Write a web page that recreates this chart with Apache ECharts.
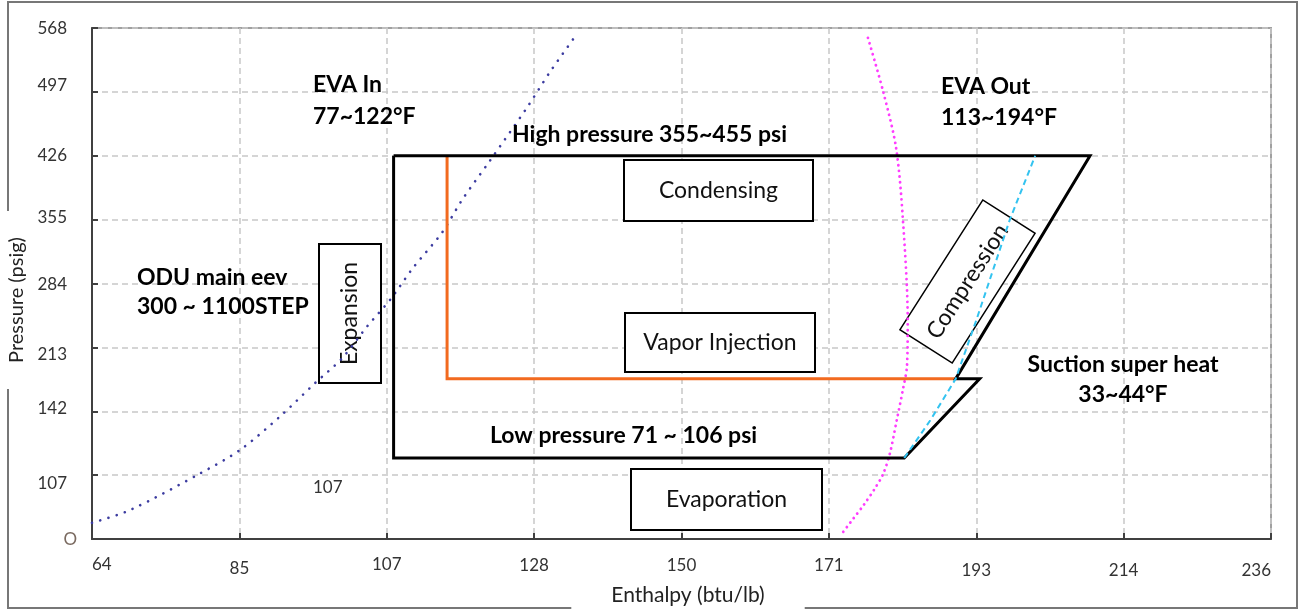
<!DOCTYPE html>
<html><head><meta charset="utf-8">
<script src="https://cdn.jsdelivr.net/npm/echarts@6/dist/echarts.min.js"></script>
<style>html,body{margin:0;padding:0;background:#fff}#c{width:1299px;height:611px}</style>
</head><body><div id="c"></div>
<script>
// ---- data (enthalpy btu/lb, pressure psig) ----
const xTicks = ['64','85','107','128','150','171','193','214','236'];
const yTicks = ['O','107','142','213','284','355','426','497','568'];
const cycleLine = [[108,426],[209.6,426],[190,178],[193.5,178],[182.5,90],[108,90],[108,426]];
const injectionLine = [[115.8,426],[115.8,178],[190,178]];
const evaInCurve = [[64,18],[69.5,32],[79.8,73],[85.6,99],[91.4,136],[96.5,173],[100.5,201],[104.1,236],[107.5,266],[110.8,301],[115.1,341],[118,377],[122.1,421],[127.5,480],[130.8,519],[134.8,562]];
const evaOutCurve = [[177.2,557],[179.4,498],[181.3,435],[182.3,355],[183,243],[182.9,193],[182.3,166],[181.4,132],[180.4,95],[179.4,72],[178.2,56],[176.6,38],[175,22],[173.6,8]];
const compressionLine = [[182.5,90],[186.3,132],[190,178],[193,243],[197.9,355],[201.6,426]];

// ---- layout tweaks (pixels) ----
const yLabelNudge = [1,8,-3,7,1,-2,0,-6,1];
const xLabelNudge = [0,4,0,1,1,1,6,6,6];
const FONT = 'Lato, "Open Sans", sans-serif';

const yRich = {}, xRich = {};
yTicks.forEach((t,i)=>{
  const d = yLabelNudge[i], pr = i === 0 ? 0 : 10;
  yRich['s'+i] = {fontFamily:FONT,fontSize:17,color:i===0?'#7a6a60':'#333',
    padding:[d>0?2*d:0, pr, d<0?-2*d:0, 0]};
});
xTicks.forEach((t,i)=>{
  xRich['s'+i] = {fontFamily:FONT,fontSize:17,color:'#333',padding:[xLabelNudge[i],0,0,0]};
});

const chart = echarts.init(document.getElementById('c'), null, {renderer:'canvas'});
const splitStyle = {lineStyle:{color:'#c8c8c8',type:[6,4],width:1.5}};
const boldText = (txt, x, y, align) => ({type:'text', z:10, x, y,
  style:{text:txt, font:'bold 23px '+FONT, fill:'#000', align:align||'left', verticalAlign:'middle'}});
const box = (x,y,w,h,label) => ({type:'group', z:1, children:[
  {type:'rect', z:1, shape:{x,y,width:w,height:h}, style:{fill:'#fff',stroke:'#000',lineWidth:2}},
  {type:'text', z:1, x:x+w/2, y:y+h/2, style:{text:label,font:'23px '+FONT,fill:'#111',align:'center',verticalAlign:'middle'}}
]});

chart.setOption({
  animation:false,
  backgroundColor:'#fff',
  grid:{left:92,right:28,top:28,bottom:72,show:true,borderColor:'#a0a0a0',borderWidth:2,backgroundColor:'transparent'},
  xAxis:{type:'value',min:64,max:236,interval:21.5,
    axisLine:{lineStyle:{color:'#404040',width:2}},
    axisTick:{inside:true,length:6,lineStyle:{color:'#404040',width:2}},
    axisLabel:{margin:17,alignMinLabel:'left',alignMaxLabel:'right',rich:xRich,
      formatter:v=>{const i=Math.round((v-64)/21.5);return '{s'+i+'|'+xTicks[i]+'}';}},
    splitLine:Object.assign({show:true},splitStyle)},
  yAxis:{type:'value',min:0,max:568,interval:71,
    axisLine:{show:true,lineStyle:{color:'#404040',width:2}},
    axisTick:{show:true,inside:true,length:6,lineStyle:{color:'#404040',width:2}},
    axisLabel:{margin:15,rich:yRich,
      formatter:v=>{const i=Math.round(v/71);return '{s'+i+'|'+yTicks[i]+'}';}},
    splitLine:Object.assign({show:true},splitStyle)},
  series:[
    {name:'EVA Out',type:'line',data:evaOutCurve,smooth:0.3,showSymbol:false,z:3,
      lineStyle:{color:'#ff3cff',width:2.8,type:[0.1,5.6],cap:'round'}},
    {name:'EVA In',type:'line',data:evaInCurve,smooth:0.3,showSymbol:false,z:3,
      lineStyle:{color:'#3c3ca0',width:2.6,type:[0.1,8.5],cap:'round'}},
    {name:'Injection',type:'line',data:injectionLine,showSymbol:false,z:4,
      lineStyle:{color:'#f26a1f',width:3,join:'miter'}},
    {name:'Cycle',type:'line',data:cycleLine,showSymbol:false,z:5,
      lineStyle:{color:'#000',width:3,join:'miter'}},
    {name:'Compression',type:'line',data:compressionLine,showSymbol:false,z:6,
      lineStyle:{color:'#33c3f0',width:2,type:[6,4]}}
  ],
  graphic:[
    {type:'rect', z:0, shape:{x:8,y:2,width:1289,height:606}, style:{fill:null,stroke:'#777',lineWidth:2}},
    {type:'text', z:20, x:17, y:300, rotation:Math.PI/2,
      style:{text:'Pressure (psig)', font:'20px '+FONT, fill:'#222', align:'center', verticalAlign:'middle',
        backgroundColor:'#fff', padding:[2,26,2,26]}},
    {type:'text', z:20, x:688, y:595,
      style:{text:'Enthalpy (btu/lb)', font:'21px '+FONT, fill:'#222', align:'center', verticalAlign:'middle',
        backgroundColor:'#fff', padding:[2,40,6,40]}},
    box(624,160,189,61,'Condensing'),
    box(625,313,190,59,'Vapor Injection'),
    box(631,469,191,61,'Evaporation'),
    {type:'group', z:1, x:350, y:313.5, rotation:Math.PI/2, children:[
      {type:'rect', z:1, shape:{x:-69.5,y:-31,width:139,height:62}, style:{fill:'#fff',stroke:'#000',lineWidth:2}},
      {type:'text', z:1, x:0, y:0, style:{text:'Expansion',font:'23px '+FONT,fill:'#111',align:'center',verticalAlign:'middle'}}
    ]},
    {type:'group', z:1, x:967.5, y:281.5, rotation:Math.atan2(130,83), children:[
      {type:'rect', z:1, shape:{x:-77,y:-31,width:154,height:62}, style:{fill:'#fff',stroke:'#000',lineWidth:1.5}},
      {type:'text', z:1, x:0, y:0, style:{text:'Compression',font:'23px '+FONT,fill:'#111',align:'center',verticalAlign:'middle'}}
    ]},
    boldText('EVA In',313,85), boldText('77~122°F',313,117),
    boldText('EVA Out',941,87), boldText('113~194°F',941,118),
    boldText('High pressure 355~455 psi',512,135),
    boldText('ODU main eev',137,278), boldText('300 ~ 1100STEP',137,307),
    boldText('Suction super heat',1123,365,'center'), boldText('33~44°F',1123,395,'center'),
    boldText('Low pressure 71 ~ 106 psi',490,436),
    {type:'text', z:10, x:313, y:488, style:{text:'107', font:'17px '+FONT, fill:'#333', align:'left', verticalAlign:'middle'}}
  ]
});
</script></body></html>
